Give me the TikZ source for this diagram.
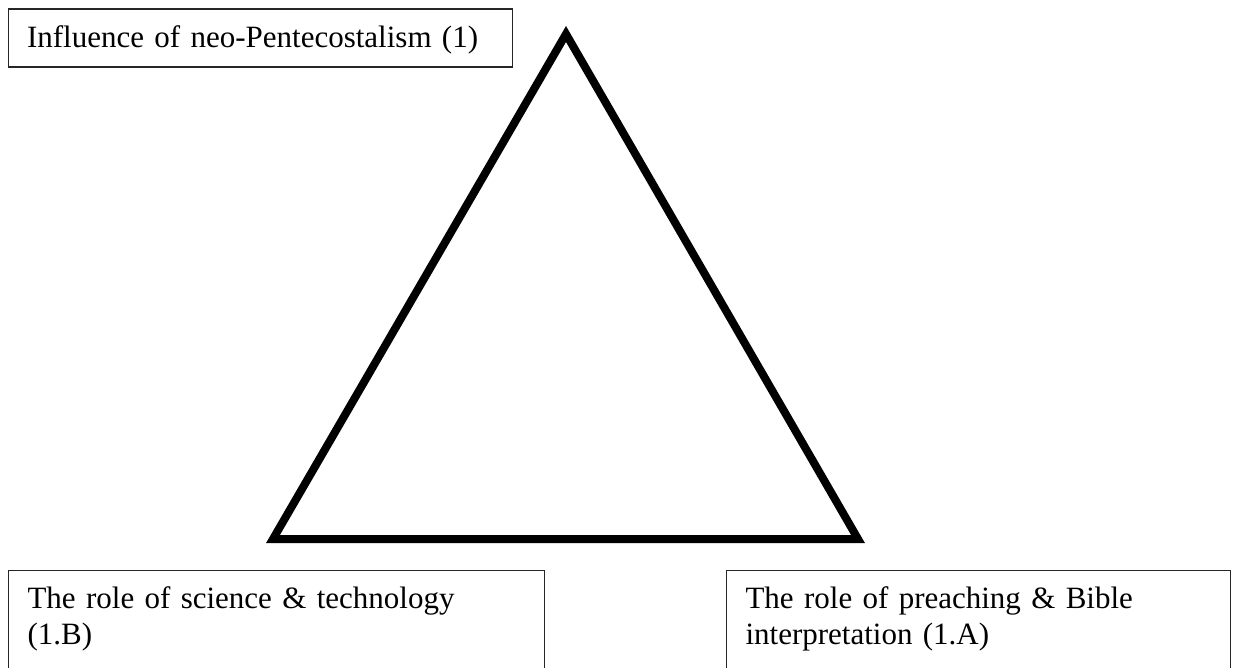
\documentclass[tikz,border=0pt]{standalone}
\usepackage{fontspec}
\setmainfont{Liberation Serif}
\usetikzlibrary{positioning}

\begin{document}
\begin{tikzpicture}[
    x=1pt, y=-1pt,
    factor/.style={draw=black!85, line width=1.1pt, anchor=north west, align=left, inner xsep=19pt, font=\fontsize{31}{36}\selectfont},
    mainfactor/.style={factor, text width=466pt, text height=24pt, text depth=6pt, inner ysep=14pt},
    subfactor/.style={factor, text height=24pt, text depth=140pt, inner ysep=14pt},
    tri/.style={line width=8pt, line join=miter, miter limit=10},
]
\useasboundingbox (0,0) rectangle (1237,668);
\clip (0,0) rectangle (1237,668);

% --- Triangle ---
\coordinate (apex) at (566, 34);
\coordinate (left) at (273, 539);
\coordinate (right) at (858, 539);
\draw[tri] (apex) -- (left) -- (right) -- cycle;

% --- Main factor (top) ---
\node[mainfactor] (neo) at (7.5, 8.5) {Influence of neo-Pentecostalism (1)};

% --- Sub factors (bottom) ---
\node[subfactor, text width=498pt] (science) at (8, 570) {The role of science \& technology\\(1.B)};
\node[subfactor, text width=466pt] (preach) at (726, 570) {The role of preaching \& Bible\\interpretation (1.A)};

\end{tikzpicture}
\end{document}
